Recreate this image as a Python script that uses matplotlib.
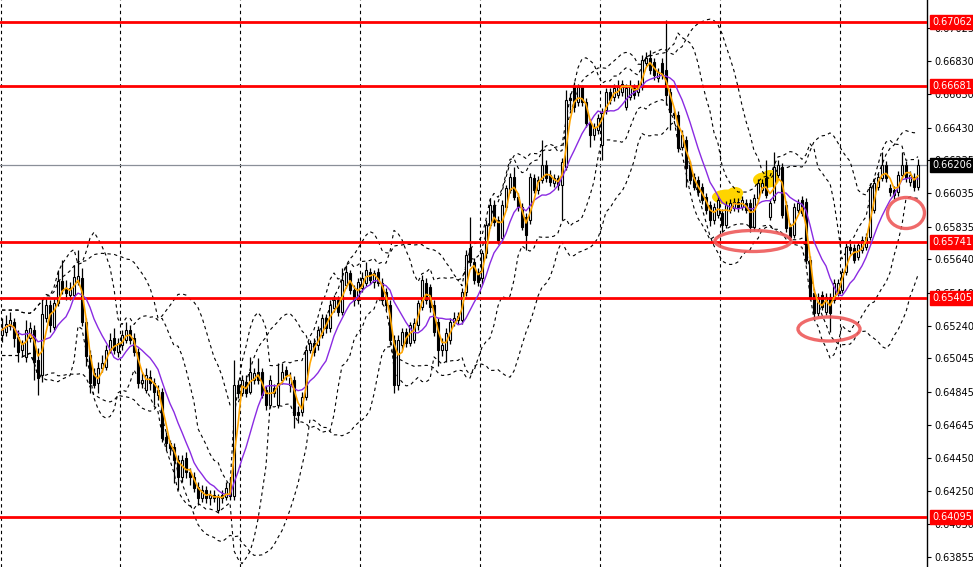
import numpy as np
import pandas as pd
import matplotlib
matplotlib.use("Agg")
import matplotlib.pyplot as plt
from matplotlib.patches import Ellipse
from matplotlib.transforms import blended_transform_factory

# ---------------- data (prices in points, 1 point = 0.00001) ----------------
open_pts = [
    65185, 65203, 65239, 65263, 65173, 65095, 65053, 65167, 65215, 65035,
    64945, 65287, 65365, 65233, 65377, 65509, 65467, 65425, 65425, 65503,
    65527, 65263, 65065, 64957, 64897, 64987, 64993, 65095, 65167, 65083,
    65125, 65155, 65215, 65167, 65083, 64897, 64855, 64933, 64897, 64825,
    64843, 64573, 64537, 64513, 64435, 64333, 64447, 64363, 64333, 64273,
    64207, 64255, 64207, 64225, 64135, 64225, 64213, 64297, 64219, 64885,
    64837, 64903, 64843, 64915, 64963, 64963, 64855, 64765, 64867, 64765,
    64915, 64975, 64885, 64915, 64723, 64723, 64813, 65095, 65137, 65125,
    65185, 65287, 65227, 65347, 65395, 65323, 65485, 65557, 65455, 65395,
    65467, 65497, 65563, 65503, 65563, 65497, 65443, 65365, 65155, 64885,
    65125, 65203, 65137, 65155, 65245, 65353, 65497, 65473, 65365, 65263,
    65095, 65095, 65155, 65263, 65275, 65275, 65443, 65707, 65623, 65563,
    65527, 65677, 65845, 65965, 65875, 65767, 65953, 66055, 66133, 66013,
    65953, 65893, 65875, 66127, 66055, 66115, 66205, 66145, 66097, 66127,
    66085, 66193, 66607, 66673, 66583, 66673, 66583, 66457, 66385, 66415,
    66325, 66535, 66643, 66613, 66625, 66643, 66553, 66613, 66667, 66643,
    66673, 66817, 66847, 66823, 66727, 66817, 66775, 66643, 66517, 66505,
    66313, 66355, 66205, 66133, 66115, 66073, 66013, 65965, 65875, 65905,
    65917, 65845, 65935, 65947, 65983, 65953, 65977, 65977, 65833, 66007,
    66055, 66127, 65893, 65995, 66145, 66193, 65965, 65833, 65785, 65935,
    65995, 65983, 65635, 65437, 65317, 65425, 65323, 65413, 65395, 65437,
    65455, 65563, 65713, 65707, 65653, 65695, 65713, 65773, 65935, 66073,
    66127, 66205, 66067, 66055, 66043, 66145, 66205, 66103, 66133, 66073,
]
high_pts = [
    65287, 65305, 65323, 65287, 65215, 65155, 65275, 65263, 65245, 65107,
    65407, 65407, 65395, 65407, 65575, 65635, 65515, 65503, 65605, 65695,
    65587, 65287, 65095, 64987, 65023, 65065, 65125, 65197, 65227, 65167,
    65215, 65263, 65245, 65197, 65107, 64963, 64987, 64975, 64927, 64885,
    64867, 64603, 64555, 64537, 64465, 64465, 64483, 64387, 64363, 64303,
    64285, 64279, 64255, 64255, 64231, 64255, 64303, 64327, 65035, 64915,
    64945, 64945, 65053, 64987, 65047, 64987, 64879, 64945, 64891, 65017,
    65017, 64999, 64963, 64939, 64759, 64843, 65119, 65155, 65167, 65239,
    65311, 65311, 65395, 65425, 65419, 65587, 65605, 65575, 65485, 65527,
    65563, 65623, 65587, 65575, 65587, 65527, 65467, 65395, 65185, 65185,
    65227, 65227, 65263, 65287, 65395, 65545, 65527, 65491, 65395, 65287,
    65167, 65227, 65287, 65323, 65323, 65467, 65695, 65893, 65647, 65587,
    65695, 65875, 66007, 65995, 65899, 65995, 66085, 66157, 66193, 66037,
    65977, 65917, 66157, 66151, 66139, 66355, 66235, 66175, 66151, 66145,
    66247, 66655, 66637, 66703, 66691, 66685, 66607, 66481, 66457, 66511,
    66547, 66667, 66667, 66691, 66715, 66715, 66691, 66715, 66691, 66715,
    66865, 66883, 66895, 66847, 66787, 66847, 67075, 66667, 66547, 66529,
    66415, 66379, 66229, 66157, 66139, 66097, 66037, 65989, 65977, 66019,
    65941, 65989, 65999, 66007, 66007, 66019, 66001, 66001, 66031, 66121,
    66121, 66235, 66001, 66283, 66235, 66217, 65989, 65857, 65977, 65999,
    66019, 66007, 65659, 65461, 65437, 65449, 65437, 65437, 65521, 65521,
    65587, 65737, 65737, 65731, 65749, 65779, 65797, 66097, 66121, 66157,
    66283, 66229, 66091, 66079, 66169, 66283, 66229, 66169, 66157, 66241,
]
low_pts = [
    65143, 65179, 65215, 65113, 65023, 65059, 65023, 65143, 64915, 64825,
    64903, 65263, 65203, 65215, 65359, 65431, 65395, 65395, 65407, 65485,
    65239, 64999, 64837, 64867, 64837, 64963, 64975, 65077, 65071, 65053,
    65095, 65137, 65131, 65059, 64867, 64867, 64837, 64855, 64765, 64795,
    64543, 64495, 64465, 64297, 64255, 64303, 64327, 64285, 64243, 64165,
    64183, 64177, 64165, 64183, 64117, 64177, 64195, 64195, 64195, 64807,
    64819, 64813, 64831, 64891, 64891, 64807, 64735, 64747, 64813, 64747,
    64891, 64915, 64843, 64627, 64657, 64699, 64795, 65077, 65059, 65095,
    65167, 65197, 65203, 65323, 65299, 65305, 65467, 65431, 65359, 65371,
    65443, 65479, 65491, 65467, 65479, 65371, 65335, 65125, 64837, 64855,
    65095, 65113, 65119, 65137, 65215, 65335, 65371, 65323, 65179, 64999,
    65059, 65023, 65131, 65239, 65251, 65251, 65419, 65599, 65491, 65479,
    65491, 65647, 65827, 65839, 65731, 65743, 65935, 66037, 65995, 65929,
    65815, 65695, 65851, 66037, 66031, 66097, 66103, 66079, 66073, 66055,
    65875, 66175, 66535, 66523, 66559, 66559, 66433, 66313, 66355, 66391,
    66235, 66511, 66571, 66589, 66607, 66619, 66535, 66595, 66601, 66619,
    66655, 66799, 66751, 66715, 66703, 66721, 66565, 66415, 66481, 66283,
    66295, 66073, 66091, 66055, 66019, 65971, 65911, 65839, 65851, 65887,
    65803, 65827, 65917, 65929, 65923, 65935, 65917, 65803, 65815, 65989,
    66037, 66007, 65875, 65977, 66127, 65887, 65803, 65749, 65767, 65917,
    65899, 65611, 65395, 65293, 65299, 65335, 65305, 65203, 65377, 65419,
    65437, 65545, 65671, 65617, 65635, 65677, 65695, 65755, 65917, 66055,
    66109, 66103, 66019, 66001, 66019, 66127, 66103, 66079, 66049, 66055,
]
close_pts = [
    65215, 65251, 65275, 65167, 65083, 65131, 65215, 65227, 65023, 64927,
    65311, 65365, 65245, 65377, 65509, 65455, 65437, 65467, 65533, 65539,
    65263, 65059, 64897, 64885, 64987, 65017, 65095, 65155, 65095, 65137,
    65185, 65215, 65155, 65083, 64897, 64915, 64945, 64897, 64843, 64855,
    64567, 64537, 64507, 64435, 64333, 64435, 64363, 64333, 64267, 64207,
    64255, 64207, 64225, 64207, 64213, 64207, 64267, 64219, 64885, 64837,
    64915, 64837, 64963, 64957, 64915, 64825, 64765, 64915, 64837, 64897,
    64963, 64945, 64927, 64705, 64705, 64813, 65095, 65137, 65083, 65215,
    65287, 65227, 65365, 65395, 65323, 65515, 65563, 65455, 65395, 65503,
    65527, 65575, 65515, 65557, 65497, 65395, 65365, 65155, 64885, 65155,
    65203, 65137, 65245, 65257, 65377, 65515, 65395, 65353, 65203, 65095,
    65125, 65197, 65263, 65287, 65299, 65443, 65665, 65623, 65515, 65503,
    65677, 65845, 65965, 65863, 65755, 65965, 66067, 66133, 66013, 65953,
    65833, 65785, 66133, 66055, 66115, 66205, 66127, 66103, 66127, 66085,
    66223, 66595, 66595, 66553, 66673, 66583, 66457, 66385, 66433, 66487,
    66517, 66643, 66595, 66667, 66673, 66691, 66667, 66673, 66625, 66685,
    66835, 66847, 66775, 66745, 66763, 66745, 66625, 66523, 66505, 66307,
    66385, 66187, 66115, 66073, 66043, 65995, 65935, 65875, 65953, 65995,
    65845, 65965, 65977, 65983, 65947, 65995, 65935, 65833, 66007, 66097,
    66097, 66025, 65977, 66193, 66205, 65905, 65827, 65773, 65953, 65977,
    65917, 65635, 65413, 65317, 65413, 65353, 65413, 65317, 65497, 65497,
    65563, 65713, 65695, 65635, 65725, 65755, 65773, 66073, 66097, 66133,
    66205, 66127, 66043, 66025, 66145, 66205, 66127, 66145, 66073, 66205,
]

level_lines = [0.67062, 0.66681, 0.65741, 0.65405, 0.64095]
current_price = 0.66206
tick_labels = ["0.67025", "0.66830", "0.66630", "0.66430", "0.66235", "0.66035",
               "0.65835", "0.65640", "0.65440", "0.65240", "0.65045", "0.64845",
               "0.64645", "0.64450", "0.64250", "0.64050", "0.63855"]
tick_values = [float(t) for t in tick_labels]

o = np.array(open_pts) / 1e5
h = np.array(high_pts) / 1e5
l = np.array(low_pts) / 1e5
c = np.array(close_pts) / 1e5
n = len(c)
idx = np.arange(n)

# indicators
cs = pd.Series(c)
ma_fast = cs.rolling(3, min_periods=1).mean()
ma_slow = cs.rolling(9, min_periods=1).mean()
def bands(period, k):
    m = cs.rolling(period, min_periods=5).mean().bfill()
    s = cs.rolling(period, min_periods=5).std(ddof=0).bfill()
    return m + k * s, m - k * s
bb20_up, bb20_lo = bands(20, 2.0)
bb10_up, bb10_lo = bands(10, 2.0)

# ---------------- figure ----------------
W, H = 973, 567
AX_W = 927
fig = plt.figure(figsize=(W / 100, H / 100), dpi=100)
ax = fig.add_axes([0, 0, AX_W / W, 1])
ax.set_xlim(-0.5, -0.5 + AX_W / 4)
ax.set_ylim(0.63793, 0.67195)

# vertical grid
for gx in np.arange(-0.5, 231, 30):
    ax.axvline(max(gx, -0.3), color="black", lw=0.8, ls=(0, (3, 3)), zorder=1)

# current price line
ax.axhline(current_price, color="#8a8f98", lw=0.9, zorder=1.5)

# yellow blobs
blob_color = "#FFD400"
for (bx, by, bw, bh) in [(181.25, 0.66013, 7.5, 0.00090), (183.3, 0.66037, 4.0, 0.00072),
                         (191.0, 0.66115, 6.5, 0.00096), (192.0, 0.66139, 4.0, 0.00072)]:
    ax.add_patch(Ellipse((bx, by), bw, bh, facecolor=blob_color, edgecolor="none", zorder=2))

# bollinger style bands
for ser in (bb20_up, bb20_lo, bb10_up, bb10_lo):
    ax.plot(idx, ser, color="black", lw=0.8, ls=(0, (3, 3)), zorder=3)

# candles
up = c >= o
bottom = np.minimum(o, c)
height = np.maximum(np.abs(c - o), 0.000015)
ax.vlines(idx, l, h, color="black", lw=0.9, zorder=4)
ax.bar(idx[up], height[up], bottom=bottom[up], width=0.68, facecolor="white",
       edgecolor="black", linewidth=0.8, zorder=4.2)
ax.bar(idx[~up], height[~up], bottom=bottom[~up], width=0.68, facecolor="black",
       edgecolor="black", linewidth=0.8, zorder=4.2)

# red levels
for v in level_lines:
    ax.axhline(v, color="#FF0000", lw=2.0, zorder=4.5)

# moving averages
ax.plot(idx, ma_slow, color="#8A2BE2", lw=1.0, zorder=5)
ax.plot(idx, ma_fast, color="#FFA500", lw=1.2, zorder=5.1)

# red ellipses
for (ex, ey, ew, eh) in [(187.75, 0.65749, 19.0, 0.00126),
                         (206.75, 0.65221, 15.5, 0.00144),
                         (226.0, 0.65917, 9.25, 0.00186)]:
    ax.add_patch(Ellipse((ex, ey), ew, eh, facecolor="none", edgecolor="#EE5A5A",
                         lw=2.4, alpha=0.9, zorder=6))

# axes styling
for s in ("left", "top", "bottom"):
    ax.spines[s].set_visible(False)
ax.spines["right"].set_color("black")
ax.spines["right"].set_linewidth(1.0)
ax.set_xticks([])
ax.yaxis.tick_right()
ax.set_yticks(tick_values)
ax.set_yticklabels(tick_labels)
ax.tick_params(axis="y", direction="out", length=3, width=0.8, labelsize=7, pad=2,
               colors="black")

trans = blended_transform_factory(ax.transAxes, ax.transData)
for v in level_lines:
    ax.text(1 + 5 / AX_W, v, f"{v:.5f}", transform=trans, color="white", fontsize=7,
            va="center", ha="left", zorder=10, clip_on=False,
            bbox=dict(boxstyle="square,pad=0.2", fc="#FF0000", ec="#FF0000"))
ax.text(1 + 5 / AX_W, current_price, f"{current_price:.5f}", transform=trans, color="white",
        fontsize=7, va="center", ha="left", zorder=10, clip_on=False,
        bbox=dict(boxstyle="square,pad=0.2", fc="black", ec="black"))

fig.savefig("out.png", dpi=100, facecolor="white")
